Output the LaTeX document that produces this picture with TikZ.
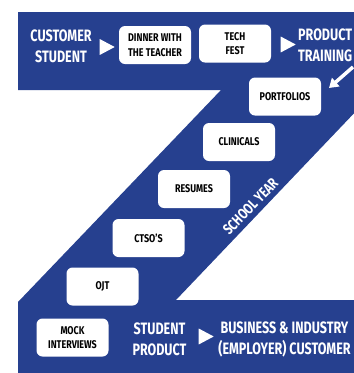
\documentclass[tikz,border=0pt]{standalone}
\usepackage{fontspec}
\setmainfont{Fira Sans}
\usetikzlibrary{arrows.meta,shapes.geometric}
\definecolor{zblue}{RGB}{38,64,143}
\newcommand\cnd[1]{\scalebox{0.76}[1]{#1}}
\newcommand\cnb[1]{\scalebox{0.8}[1]{#1}}
\begin{document}
\begin{tikzpicture}[x=1pt,y=-1pt,
  step box/.style={draw=none,fill=white,rounded corners=6pt,minimum width=72pt,minimum height=38pt,align=center,inner sep=1pt,font=\fontsize{11.2}{14.5}\selectfont\bfseries,text=black},
  band text/.style={text=white,align=center,font=\fontsize{16.5}{21}\selectfont\bfseries,inner sep=0pt},
  tri/.style={isosceles triangle,isosceles triangle apex angle=56,fill=white,draw=none,minimum height=15pt,inner sep=0pt}]
\useasboundingbox (0,0) rectangle (354,373);
% Z-shaped band
\fill[zblue] (18,12) -- (360,12) -- (360,107) -- (176,300) -- (360,300) -- (360,380) -- (18,380) -- (18,302) -- (221,90) -- (18,90) -- cycle;
% texts
\node[band text] (cust) at (61,46.5) {\cnd{CUSTOMER}\\\cnd{STUDENT}};
\node[band text,align=left,anchor=west] (prod) at (298,45.5) {\cnd{PRODUCT}\\\cnd{TRAINING}};
\node[band text] (sprod) at (159.5,339) {\cnd{STUDENT}\\\cnd{PRODUCT}};
\node[band text] (bus) at (284.5,339) {\cnd{BUSINESS \& INDUSTRY}\\\cnd{(EMPLOYER) CUSTOMER}};
% triangles
\node[tri] (t1) at (104.5,47) {};
\node[tri] (t2) at (285.5,44.5) {};
\node[tri] (t3) at (203.5,336.5) {};
% boxes
\node[step box] (dinner) at (155,45) {\cnb{DINNER WITH}\\\cnb{THE TEACHER}};
\node[step box] (tech) at (235,43.5) {\cnb{TECH}\\\cnb{FEST}};
\node[step box] (port) at (285,96.5) {\cnb{PORTFOLIOS}};
\node[step box] (clin) at (239,142) {\cnb{CLINICALS}};
\node[step box] (res) at (194,189) {\cnb{RESUMES}};
\node[step box] (ctso) at (148.5,238) {\cnb{CTSO'S}};
\node[step box] (ojt) at (102.5,286.5) {\cnb{OJT}};
\node[step box] (mock) at (72.5,337.5) {\cnb{MOCK}\\\cnb{INTERVIEWS}};
% school year
\node[text=white,rotate=46,font=\fontsize{15}{15}\selectfont\bfseries,inner sep=0pt] (sy) at (250.5,206.5) {\cnd{SCHOOL YEAR}};
% arrow
\coordinate (a1) at (353,67);
\coordinate (a2) at (329,88);
\draw[white,line width=3.5pt,-{Triangle[width=11pt,length=9pt]}] (a1) -- (a2);
\end{tikzpicture}
\end{document}
